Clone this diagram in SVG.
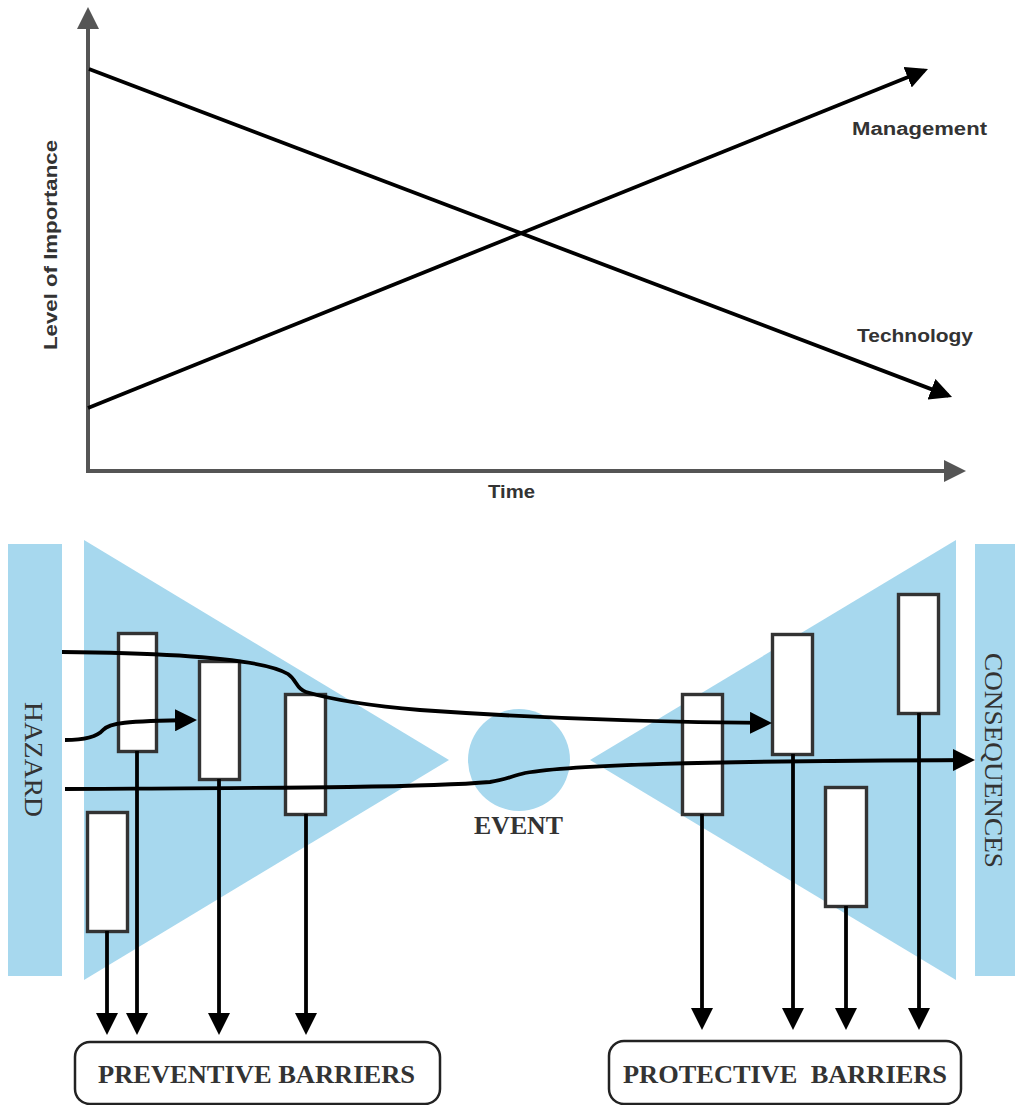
<svg xmlns="http://www.w3.org/2000/svg" width="1015" height="1105" viewBox="0 0 1015 1105">
<style>
.axis{stroke:#555;stroke-width:4;fill:none}
.ln{stroke:#000;stroke-width:3.8;fill:none}
.bg{fill:#a7d8ee}
.box{fill:#fff;stroke:#333;stroke-width:3.4}
.lbl{fill:#333;stroke:none}
.sans{font-family:"Liberation Sans",Arial,sans-serif;font-weight:bold;font-size:18px}
.serif{font-family:"Liberation Serif","Times New Roman",serif;font-size:26px}
.bar{fill:#fff;stroke:#222;stroke-width:2.5}
</style>
<defs>
<marker id="ah" markerUnits="userSpaceOnUse" markerWidth="22" markerHeight="22" refX="18" refY="11" orient="auto" viewBox="0 0 22 22">
<path d="M0,0 L22,11 L0,22 z" fill="#000"/>
</marker>
<marker id="ahg" markerUnits="userSpaceOnUse" markerWidth="22" markerHeight="22" refX="18" refY="11" orient="auto" viewBox="0 0 22 22">
<path d="M0,0 L22,11 L0,22 z" fill="#555"/>
</marker>
</defs>
<rect width="1015" height="1105" fill="#fff"/>

<!-- Top chart -->
<g id="chart">
<g id="axes">
<line class="axis" x1="88" y1="473" x2="88" y2="11" marker-end="url(#ahg)"/>
<line class="axis" x1="86" y1="471" x2="962" y2="471" marker-end="url(#ahg)"/>
</g>
<g id="chart-lines">
<line class="ln" x1="89" y1="69" x2="948.3" y2="395.6" marker-end="url(#ah)"/>
<line class="ln" x1="88" y1="408" x2="924.3" y2="70.5" marker-end="url(#ah)"/>
</g>
<text class="lbl sans" x="852" y="135" textLength="135" lengthAdjust="spacingAndGlyphs">Management</text>
<text class="lbl sans" x="857" y="342" textLength="116" lengthAdjust="spacingAndGlyphs">Technology</text>
<text class="lbl sans" x="488" y="498" textLength="47" lengthAdjust="spacingAndGlyphs">Time</text>
<text class="lbl sans" transform="translate(57,350) rotate(-90)" x="0" y="0" textLength="210" lengthAdjust="spacingAndGlyphs">Level of Importance</text>
</g>

<!-- Bow-tie background -->
<g id="hazard">
<rect class="bg" x="8" y="544" width="54" height="432"/>
<text class="lbl serif" transform="translate(25,702) rotate(90)" x="0" y="0" textLength="115" lengthAdjust="spacingAndGlyphs">HAZARD</text>
</g>
<g id="left-triangle"><polygon class="bg" points="84,540 84,980 449,760"/></g>
<g id="event">
<circle class="bg" cx="519" cy="760" r="51"/>
<text class="lbl serif" x="474" y="834" font-weight="bold" textLength="89" lengthAdjust="spacingAndGlyphs">EVENT</text>
</g>
<g id="right-triangle"><polygon class="bg" points="590,760 956,540 956,980"/></g>
<g id="consequences">
<rect class="bg" x="975" y="544" width="40" height="432"/>
<text class="lbl serif" transform="translate(985,653) rotate(90)" x="0" y="0" textLength="215" lengthAdjust="spacingAndGlyphs">CONSEQUENCES</text>
</g>

<!-- Barriers -->
<g id="barrier-A"><rect class="box" x="118.5" y="633.5" width="38" height="118"/></g>
<g id="barrier-B"><rect class="box" x="199.5" y="661.5" width="40" height="118"/></g>
<g id="barrier-C"><rect class="box" x="285.5" y="694.5" width="40" height="120"/></g>
<g id="barrier-D"><rect class="box" x="87.5" y="812.5" width="40" height="119"/></g>
<g id="barrier-E"><rect class="box" x="682.5" y="694.5" width="40" height="120"/></g>
<g id="barrier-F"><rect class="box" x="772.5" y="634.5" width="40" height="120"/></g>
<g id="barrier-G"><rect class="box" x="898.5" y="594.5" width="40" height="119"/></g>
<g id="barrier-H"><rect class="box" x="825.5" y="787.5" width="41" height="119"/></g>

<!-- Connectors -->
<g id="connectors">
<path class="ln" d="M62,652 C170,653 262,658 288,674 C297,680 296,689 306,692 C330,699 360,705 420,710 C520,717 640,722 768,723" marker-end="url(#ah)"/>
<path class="ln" d="M65,740 C85,740 97,737 103,730 C109,723 125,721 193,720" marker-end="url(#ah)"/>
<path class="ln" d="M65,789 C250,788 420,788 490,782 C505,780 512,776 525,773 C570,765 700,761 971,760" marker-end="url(#ah)"/>
<line class="ln" x1="107" y1="931" x2="107" y2="1031" marker-end="url(#ah)"/>
<line class="ln" x1="137" y1="751" x2="137" y2="1031" marker-end="url(#ah)"/>
<line class="ln" x1="219" y1="779" x2="219" y2="1031" marker-end="url(#ah)"/>
<line class="ln" x1="306" y1="814" x2="306" y2="1031" marker-end="url(#ah)"/>
<line class="ln" x1="702" y1="814" x2="702" y2="1026" marker-end="url(#ah)"/>
<line class="ln" x1="793" y1="754" x2="793" y2="1026" marker-end="url(#ah)"/>
<line class="ln" x1="846" y1="906" x2="846" y2="1026" marker-end="url(#ah)"/>
<line class="ln" x1="919" y1="713" x2="919" y2="1026" marker-end="url(#ah)"/>
</g>

<g id="preventive-barriers">
<rect class="bar" x="75" y="1042" width="365" height="62" rx="15"/>
<text class="lbl serif" x="98" y="1083" font-weight="bold" textLength="317" lengthAdjust="spacingAndGlyphs">PREVENTIVE BARRIERS</text>
</g>
<g id="protective-barriers">
<rect class="bar" x="609" y="1041" width="352" height="63" rx="15"/>
<text class="lbl serif" x="623" y="1083" font-weight="bold" xml:space="preserve" textLength="324" lengthAdjust="spacingAndGlyphs">PROTECTIVE  BARRIERS</text>
</g>
</svg>
